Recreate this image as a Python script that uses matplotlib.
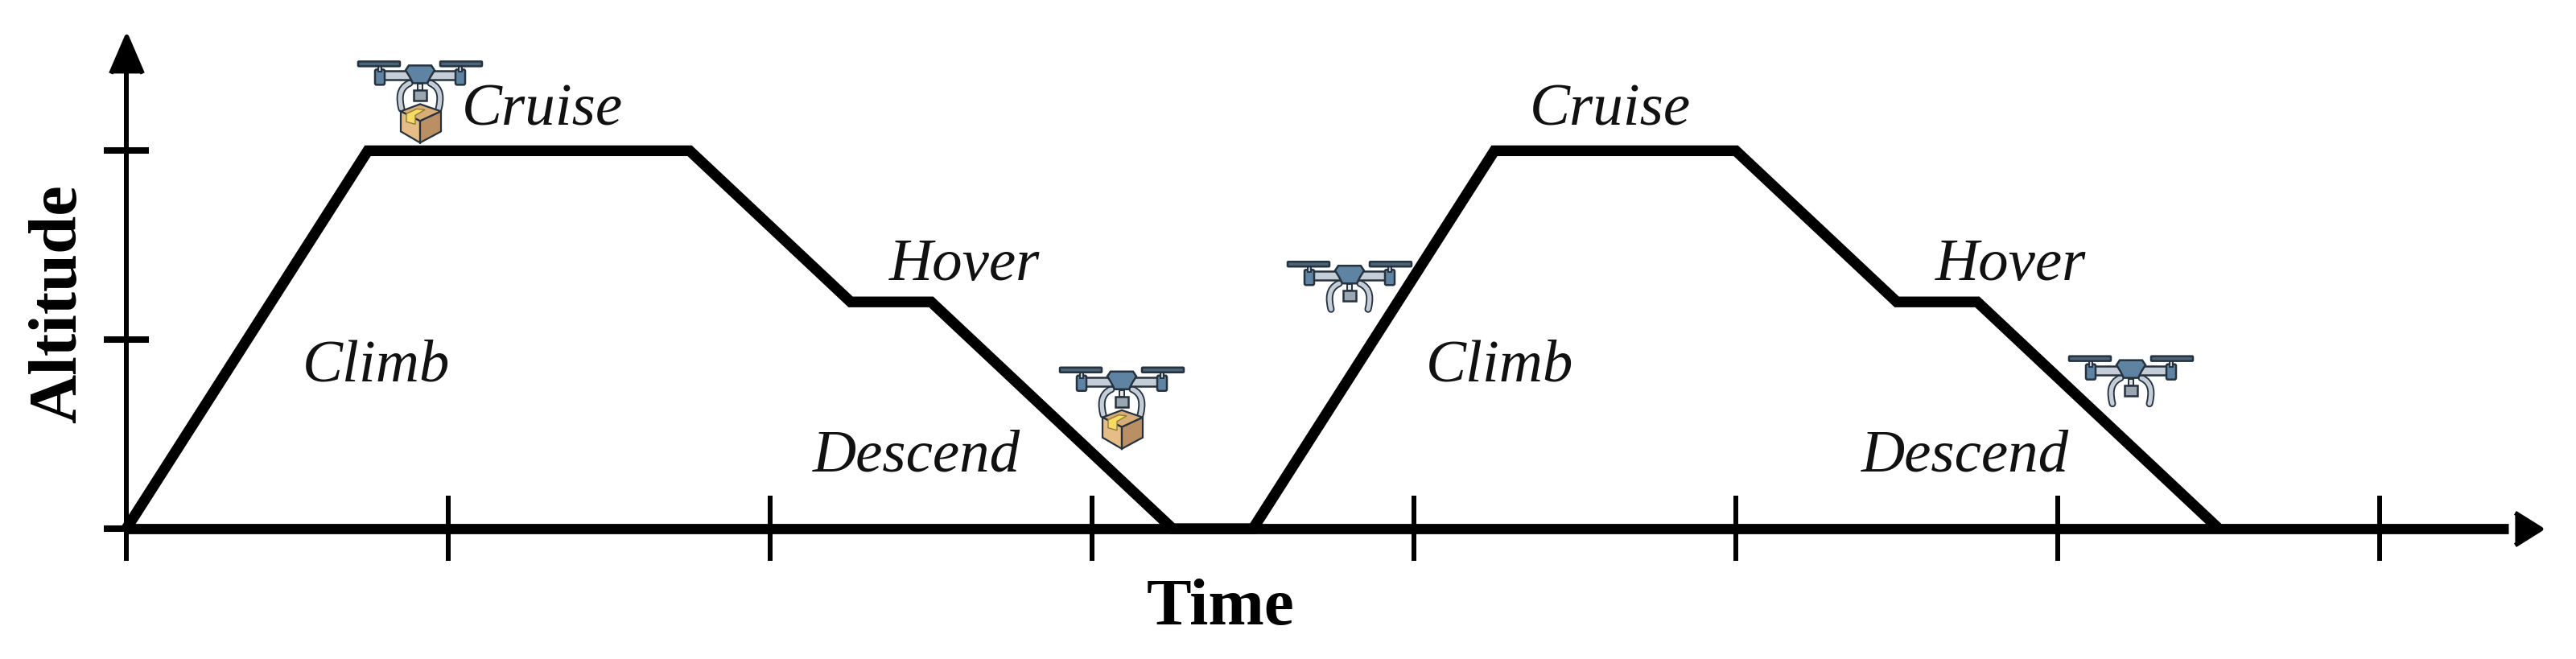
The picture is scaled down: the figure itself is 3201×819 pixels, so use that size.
import matplotlib
matplotlib.use('Agg')
from matplotlib import pyplot as plt
from matplotlib.markers import MarkerStyle
from matplotlib.patches import Polygon, Rectangle, FancyBboxPatch, PathPatch
from matplotlib.path import Path
from matplotlib.transforms import Affine2D

plt.rcParams['font.family'] = ['Liberation Serif', 'DejaVu Serif']

# flight profile
time_vals = [0, 3, 7, 9, 10, 13, 14, 17, 20, 22, 23, 26]
alt_vals = [0, 2, 2, 1.2, 1.2, 0, 0, 2, 2, 1.2, 1.2, 0]

x_ticks = [0, 4, 8, 12, 16, 20, 24, 28]
y_ticks = [0, 1, 2]

phase_names = ['Cruise', 'Cruise', 'Hover', 'Hover', 'Climb', 'Climb', 'Descend', 'Descend']
phase_x = [5.17, 18.44, 10.41, 23.42, 3.11, 17.07, 9.82, 22.85]
phase_y = [2.21, 2.21, 1.39, 1.39, 0.857, 0.857, 0.38, 0.38]

drone_x = [3.65, 12.37, 15.2, 24.91]
drone_y = [2.46, 0.84, 1.40, 0.90]
drone_box = [True, True, False, False]

OUTLINE = '#26333f'
BLUE = '#5f83a3'
GREY = '#c5ced8'


def draw_drone(ax, x, y, has_box):
    # icon is drawn in pixels around the rotor line
    tr = Affine2D().translate(*ax.transData.transform((x, y)))

    def add(p):
        p.set_transform(tr)
        p.set_clip_on(False)
        ax.add_patch(p)

    for sign in [-1, 1]:
        # landing legs
        leg = Path([(sign*13, -24), (sign*27, -30), (sign*26, -44), (sign*23, -56)],
                   [Path.MOVETO, Path.CURVE4, Path.CURVE4, Path.CURVE4])
        add(PathPatch(leg, fc='none', ec=OUTLINE, lw=6.5, capstyle='round', zorder=5))
        add(PathPatch(leg, fc='none', ec=GREY, lw=3.8, capstyle='round', zorder=5.1))
        # arm, motor, rotor
        add(Rectangle((min(sign*8, sign*45), -20), 37, 11, fc=GREY, ec=OUTLINE, lw=1.8, zorder=6))
        add(FancyBboxPatch((sign*50-4, -24), 8, 15, boxstyle='round,pad=2', fc=BLUE, ec=OUTLINE, lw=1.8, zorder=7))
        add(Rectangle((sign*50-2, -10), 4, 10, fc=GREY, ec=OUTLINE, lw=1.4, zorder=7))
        add(FancyBboxPatch((sign*51-25, -2), 50, 4, boxstyle='round,pad=1', fc='#4c6478', ec=OUTLINE, lw=1.8, zorder=8))
    # body and camera
    add(Polygon([(-14, -2), (14, -2), (18, -8), (13, -16), (9, -24), (-9, -24), (-13, -16), (-18, -8)],
                closed=True, fc=BLUE, ec=OUTLINE, lw=1.8, zorder=9))
    add(Rectangle((-8, -46), 16, 13, fc='#9aa6b2', ec=OUTLINE, lw=1.8, zorder=6))
    add(Rectangle((-3, -33), 6, 8, fc='#e3e7ea', ec=OUTLINE, lw=1.4, zorder=6))

    if has_box:
        add(Polygon([(-24, -59), (0, -50), (26, -59), (0, -71)], closed=True, fc='#d8ad78', ec=OUTLINE, lw=1.6, zorder=10))
        add(Polygon([(-24, -59), (0, -71), (0, -98), (-24, -84)], closed=True, fc='#e6bd86', ec=OUTLINE, lw=1.6, zorder=10))
        add(Polygon([(26, -59), (0, -71), (0, -98), (26, -84)], closed=True, fc='#b98f63', ec=OUTLINE, lw=1.6, zorder=10))
        add(Polygon([(-17, -62), (-4, -56), (6, -57), (-6, -64), (-6, -75), (-17, -72)], closed=True,
                    fc='#f6dc62', ec='#8f7a3a', lw=1, zorder=11))


fig = plt.figure(figsize=(32.01, 8.19), dpi=100)
ax = fig.add_axes([0, 0, 1, 1])
ax.set_xlim(-1.57, 30.44)
ax.set_ylim(-0.69, 2.798)
ax.axis('off')

# axes lines
ax.plot([0, 0], [-0.16, 2.45], color='black', lw=4.3, solid_capstyle='butt', zorder=2)
ax.plot([0, 29.6], [0, 0], color='black', lw=9.2, solid_capstyle='butt', zorder=2)
for t in x_ticks:
    ax.plot([t, t], [-0.17, 0.175], color='black', lw=4.3, solid_capstyle='butt', zorder=2)
for a in y_ticks:
    ax.plot([-0.28, 0.28], [a, a], color='black', lw=5.8, solid_capstyle='butt', zorder=2)

up = MarkerStyle([(-0.43, -0.5), (0, 0.5), (0.43, -0.5)], joinstyle='round')
right = MarkerStyle([(-0.4, -0.5), (0.4, 0), (-0.4, 0.5)], joinstyle='round')
ax.plot([0], [2.51], marker=up, ms=33, color='black', mew=4, zorder=3)
ax.plot([29.84], [0], marker=right, ms=29, color='black', mew=4, zorder=3)

ax.plot(time_vals, alt_vals, color='black', lw=9.6, solid_joinstyle='miter', solid_capstyle='butt', zorder=4)

for name, px, py in zip(phase_names, phase_x, phase_y):
    ax.text(px, py, name, fontsize=54, style='italic', ha='center', va='center', color='#111111')

ax.text(-0.83, 1.19, 'Altitude', fontsize=61, fontweight='bold', rotation=90, ha='center', va='center')
ax.text(13.6, -0.425, 'Time', fontsize=60, fontweight='bold', ha='center', va='center')

for dx, dy, has_box in zip(drone_x, drone_y, drone_box):
    draw_drone(ax, dx, dy, has_box)

fig.savefig('out.png', dpi=100)
